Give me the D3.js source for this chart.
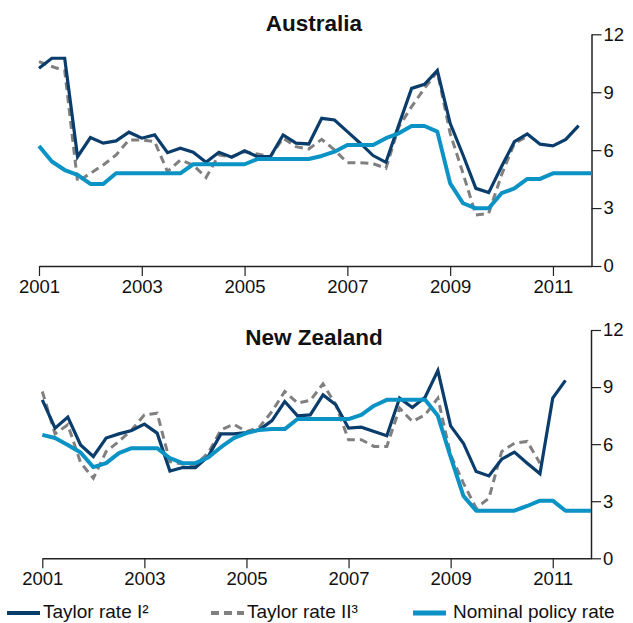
<!DOCTYPE html>
<html>
<head>
<meta charset="utf-8">
<script src="https://cdn.jsdelivr.net/npm/d3@7"></script>
<style>
  body { margin: 0; background: #fff; }
  svg text { font-family: "Liberation Sans", Arial, Helvetica, sans-serif; fill: #111; }
  .title { font-weight: bold; font-size: 22.5px; }
  .tick text { font-size: 18.5px; }
  .legend text { font-size: 19px; }
</style>
</head>
<body>
<svg id="chart" width="633" height="623"></svg>
<script>
// quarterly data, starting 2001 Q1
let startYear = 2001
let yearTicks = [2001, 2003, 2005, 2007, 2009, 2011]
let rateTicks = [0, 3, 6, 9, 12]

let ausTaylorI = [10.24, 10.76, 10.76, 5.66, 6.65, 6.36, 6.48, 6.93, 6.62, 6.79, 5.87, 6.10, 5.89, 5.37, 5.89, 5.63,
  5.97, 5.66, 5.66, 6.79, 6.36, 6.32, 7.65, 7.56, 6.96, 6.36, 5.72, 5.37, 7.30, 9.20, 9.41, 10.12,
  7.39, 5.75, 4.02, 3.80, 5.15, 6.44, 6.84, 6.31, 6.22, 6.56, 7.27]
let ausTaylorII = [10.59, 10.33, 10.12, 4.37, 4.80, 5.23, 5.75, 6.53, 6.53, 6.44, 4.89, 5.49, 5.23, 4.58, 5.75, 5.66,
  5.92, 5.80, 5.66, 6.62, 6.18, 6.06, 6.56, 6.01, 5.35, 5.35, 5.30, 5.06, 7.20, 8.25, 9.20, 10.07,
  6.87, 4.80, 2.64, 2.73, 4.72, 6.36, 6.70]
let ausPolicy = [6.22, 5.41, 4.97, 4.72, 4.25, 4.25, 4.80, 4.80, 4.80, 4.80, 4.80, 4.80, 5.27, 5.27, 5.27, 5.27,
  5.27, 5.54, 5.54, 5.54, 5.54, 5.54, 5.70, 5.92, 6.27, 6.27, 6.27, 6.62, 6.87, 7.25, 7.25, 6.96,
  4.28, 3.25, 2.99, 2.99, 3.77, 4.02, 4.51, 4.51, 4.80, 4.80, 4.80, 4.80]

let nzTaylorI = [8.33, 6.84, 7.42, 5.96, 5.35, 6.32, 6.54, 6.72, 7.05, 6.58, 4.59, 4.77, 4.77, 5.35, 6.54, 6.54,
  6.61, 6.75, 7.24, 8.24, 7.49, 7.54, 8.59, 8.07, 6.84, 6.89, 6.66, 6.44, 8.42, 7.93, 8.47, 9.87,
  6.96, 6.05, 4.56, 4.33, 5.21, 5.58, 5.00, 4.44, 8.42, 9.35]
let nzTaylorII = [8.77, 6.54, 7.02, 5.03, 4.21, 5.61, 6.14, 6.75, 7.54, 7.63, 5.08, 4.96, 4.91, 5.53, 6.75, 7.05,
  6.66, 6.89, 7.72, 8.77, 8.16, 8.30, 9.17, 8.07, 6.23, 6.23, 5.88, 5.88, 7.89, 7.19, 7.54, 8.42,
  5.44, 3.95, 2.63, 3.16, 5.61, 6.05, 6.14, 5.00]
let nzPolicy = [6.49, 6.32, 5.96, 5.56, 4.79, 5.00, 5.53, 5.79, 5.79, 5.79, 5.26, 5.00, 5.00, 5.30, 5.84, 6.32,
  6.58, 6.75, 6.79, 6.79, 7.32, 7.32, 7.32, 7.32, 7.32, 7.54, 8.02, 8.33, 8.33, 8.33, 8.33, 7.49,
  5.33, 3.28, 2.50, 2.50, 2.50, 2.50, 2.75, 3.03, 3.03, 2.50, 2.50, 2.50]

let seriesNames = ["Taylor rate I²", "Taylor rate II³", "Nominal policy rate"]
let seriesColors = ["#0a3d6b", "#808080", "#0a93c4"]

let svg = d3.select("#chart")

let panels = [
  { title: "Australia", series: [ausTaylorI, ausTaylorII, ausPolicy], x0: 39, x1: 591.5, yTop: 34.3, yBottom: 266, titleY: 30.5 },
  { title: "New Zealand", series: [nzTaylorI, nzTaylorII, nzPolicy], x0: 42.3, x1: 591, yTop: 330, yBottom: 558.3, titleY: 345 }
]

function toPoints(values) {
  return values.map(function (v, i) { return { t: startYear + i * 0.25, v: v } })
}

panels.forEach(function (p) {
  let g = svg.append("g")

  let xScale = d3.scaleLinear()
    .domain([2001, 2011.75])
    .range([p.x0, p.x1])

  let yScale = d3.scaleLinear()
    .domain([0, 12])
    .range([p.yBottom, p.yTop])

  // x axis
  let xAxis = d3.axisBottom(xScale)
    .tickValues(yearTicks)
    .tickFormat(d3.format("d"))
    .tickSize(10)
    .tickSizeOuter(0)

  let xg = g.append("g")
    .attr("transform", "translate(0," + p.yBottom + ")")
    .call(xAxis)
  xg.select(".domain").attr("stroke", "#222").attr("stroke-width", 1.5)
  xg.selectAll(".tick line").attr("stroke", "#222").attr("stroke-width", 1.2)
  xg.selectAll(".tick text").attr("dy", "0.75em").attr("y", 13)

  // y axis on the right
  let yAxis = d3.axisRight(yScale)
    .tickValues(rateTicks)
    .tickSize(10)
    .tickSizeOuter(0)

  let yg = g.append("g")
    .attr("transform", "translate(" + p.x1 + ",0)")
    .call(yAxis)
  yg.select(".domain").attr("stroke", "#222").attr("stroke-width", 1.5)
  yg.selectAll(".tick line").attr("stroke", "#222").attr("stroke-width", 1.2)
  yg.selectAll(".tick text").attr("x", 12)

  g.selectAll(".domain").attr("fill", "none")
  g.selectAll(".tick text").attr("fill", "#111")

  // title
  g.append("text")
    .attr("class", "title")
    .attr("x", 314)
    .attr("y", p.titleY)
    .style("text-anchor", "middle")
    .text(p.title)

  let line = d3.line()
    .x(function (d) { return xScale(d.t) })
    .y(function (d) { return yScale(d.v) })

  // dashed taylor II first, then taylor I, then policy rate on top
  g.append("path")
    .datum(toPoints(p.series[1]))
    .attr("d", line)
    .attr("fill", "none")
    .attr("stroke", seriesColors[1])
    .attr("stroke-width", 3)
    .attr("stroke-dasharray", "8,5")

  g.append("path")
    .datum(toPoints(p.series[0]))
    .attr("d", line)
    .attr("fill", "none")
    .attr("stroke", seriesColors[0])
    .attr("stroke-width", 3.2)
    .attr("stroke-linejoin", "miter")

  g.append("path")
    .datum(toPoints(p.series[2]))
    .attr("d", line)
    .attr("fill", "none")
    .attr("stroke", seriesColors[2])
    .attr("stroke-width", 4)
    .attr("stroke-linejoin", "round")
})

// legend
let legendX = [7, 211, 413]
let legend = svg.append("g").attr("class", "legend")

seriesNames.forEach(function (name, i) {
  legend.append("line")
    .attr("x1", legendX[i])
    .attr("x2", legendX[i] + 33)
    .attr("y1", 613)
    .attr("y2", 613)
    .attr("stroke", seriesColors[i])
    .attr("stroke-width", i == 2 ? 5 : 4)
    .attr("stroke-dasharray", i == 1 ? "8,5" : null)

  legend.append("text")
    .attr("x", legendX[i] + 36 + (i == 2 ? 4 : 0))
    .attr("y", 618)
    .text(name)
})
</script>
</body>
</html>
